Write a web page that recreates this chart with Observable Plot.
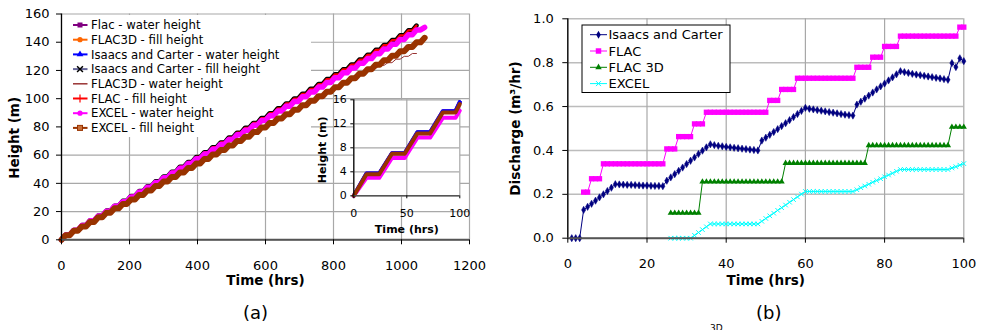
<!DOCTYPE html>
<html><head><meta charset="utf-8">
<script src="https://cdn.jsdelivr.net/npm/d3@7"></script>
<script src="https://cdn.jsdelivr.net/npm/@observablehq/plot@0.6"></script>
<style>
body{margin:0;background:#fff;}
#wrap{position:relative;width:982px;height:330px;overflow:hidden;background:#fff;font-family:"DejaVu Sans",sans-serif;}
#wrap svg{overflow:visible;}
.cap{position:absolute;font-family:"DejaVu Sans",sans-serif;color:#000;}
</style></head><body><div id="wrap"></div>
<script>
// ---------------- (a) main chart data ----------------
const xTicksA = [0,200,400,600,800,1000,1200];
const yTicksA = [0,20,40,60,80,100,120,140,160];
const hrsA = [0,12,24,36,48,60,72,84,96,108,120,132,144,156,168,180,192,204,216,228,240,252,264,276,288,300,312,324,336,348,360,372,384,396,408,420,432,444,456,468,480,492,504,516,528,540,552,564,576,588,600,612,624,636,648,660,672,684,696,708,720,732,744,756,768,780,792,804,816,828,840,852,864,876,888,900,912,924,936,948,960,972,984,996,1008,1020,1032,1044,1056,1068];
// water height (Flac / Isaacs and Carter / FLAC3D fill, FLAC fill overlap)
const waterA = [0,3.5,3.5,6.9,6.9,10.4,10.4,13.8,13.8,17.3,17.3,20.7,20.7,24.2,24.2,27.6,27.6,31.1,31.1,34.5,34.5,38.0,38.0,41.4,41.4,44.9,44.9,48.3,48.3,51.8,51.8,55.2,55.2,58.7,58.7,62.1,62.1,65.6,65.6,69.0,69.0,72.5,72.5,75.9,75.9,79.4,79.4,82.8,82.8,86.3,86.3,89.7,89.7,93.2,93.2,96.6,96.6,100.1,100.1,103.5,103.5,107.0,107.0,110.4,110.4,113.9,113.9,117.3,117.3,120.8,120.8,124.2,124.2,127.7,127.7,131.1,131.1,134.6,134.6,138.0,138.0,141.5,141.5,144.9,144.9,148.4,148.4,151.8];
const excelWaterA = [0,3.4,3.4,6.8,6.8,10.1,10.1,13.5,13.5,16.9,16.9,20.3,20.3,23.7,23.7,27.0,27.0,30.4,30.4,33.8,33.8,37.2,37.2,40.6,40.6,43.9,43.9,47.3,47.3,50.7,50.7,54.1,54.1,57.5,57.5,60.8,60.8,64.2,64.2,67.6,67.6,71.0,71.0,74.4,74.4,77.7,77.7,81.1,81.1,84.5,84.5,87.9,87.9,91.3,91.3,94.6,94.6,98.0,98.0,101.4,101.4,104.8,104.8,108.2,108.2,111.5,111.5,114.9,114.9,118.3,118.3,121.7,121.7,125.1,125.1,128.4,128.4,131.8,131.8,135.2,135.2,138.6,138.6,142.0,142.0,145.3,145.3,148.7,148.7,150.5];
const excelFillA = [0,3.2,3.2,6.4,6.4,9.5,9.5,12.7,12.7,15.9,15.9,19.1,19.1,22.3,22.3,25.4,25.4,28.6,28.6,31.8,31.8,35.0,35.0,38.2,38.2,41.3,41.3,44.5,44.5,47.7,47.7,50.9,50.9,54.1,54.1,57.2,57.2,60.4,60.4,63.6,63.6,66.8,66.8,70.0,70.0,73.1,73.1,76.3,76.3,79.5,79.5,82.7,82.7,85.9,85.9,89.0,89.0,92.2,92.2,95.4,95.4,98.6,98.6,101.8,101.8,104.9,104.9,108.1,108.1,111.3,111.3,114.5,114.5,117.7,117.7,120.8,120.8,124.0,124.0,127.2,127.2,130.4,130.4,133.6,133.6,136.7,136.7,139.9,139.9,143.1];
// FLAC3D water height (thin line) - visible part near the end
const flac3dWaterT = [852,864,876,888,900,912,924,936,948,960,972,984,996,1008,1020,1032,1044];
const flac3dWaterA = [114.5,117.0,117.0,119.0,119.0,121.5,121.5,123.5,123.5,125.5,125.5,128.0,128.0,130.0,130.0,132.0,132.0];

// ---------------- inset data ----------------
const xTicksIn = [0,50,100];
const yTicksIn = [0,4,8,12,16];
const hrsIn = [0,12,24,36,48,60,72,84,96,100];
const waterIn = [0,3.7,3.7,7.1,7.1,10.6,10.6,14.1,14.1,15.6];
const excelWaterIn = [0,3.0,3.0,6.3,6.3,9.7,9.7,13.0,13.0,14.2];
const excelFillIn = [0,3.6,3.6,7.0,7.0,10.4,10.4,13.9,13.9,15.3];

// ---------------- (b) discharge data ----------------
const xTicksB = [0,20,40,60,80,100];
const yTicksB = [0,0.2,0.4,0.6,0.8,1.0];
const hoursB = [1,2,3,4,5,6,7,8,9,10,11,12,13,14,15,16,17,18,19,20,21,22,23,24,25,26,27,28,29,30,31,32,33,34,35,36,37,38,39,40,41,42,43,44,45,46,47,48,49,50,51,52,53,54,55,56,57,58,59,60,61,62,63,64,65,66,67,68,69,70,71,72,73,74,75,76,77,78,79,80,81,82,83,84,85,86,87,88,89,90,91,92,93,94,95,96,97,98,99,100];
// Isaacs and Carter, hours 1..100
const isaacsB = [0,0,0,0.129,0.143,0.157,0.171,0.186,0.200,0.215,0.230,0.246,0.245,0.244,0.243,0.243,0.242,0.241,0.240,0.240,0.239,0.238,0.238,0.237,0.262,0.277,0.292,0.307,0.322,0.338,0.353,0.368,0.384,0.399,0.414,0.428,0.424,0.421,0.419,0.416,0.414,0.412,0.410,0.408,0.406,0.404,0.402,0.400,0.445,0.458,0.471,0.484,0.497,0.511,0.524,0.538,0.552,0.566,0.580,0.594,0.590,0.587,0.584,0.581,0.578,0.575,0.572,0.569,0.566,0.563,0.561,0.559,0.609,0.622,0.636,0.650,0.664,0.678,0.692,0.705,0.719,0.733,0.747,0.761,0.757,0.753,0.749,0.746,0.743,0.740,0.737,0.734,0.731,0.728,0.725,0.722,0.798,0.780,0.820,0.807];
// FLAC, hours 4..100
const flacB = [0.21,0.21,0.271,0.271,0.271,0.339,0.339,0.339,0.339,0.339,0.339,0.339,0.339,0.339,0.339,0.339,0.339,0.339,0.339,0.339,0.339,0.407,0.407,0.407,0.463,0.463,0.463,0.463,0.521,0.521,0.521,0.574,0.574,0.574,0.574,0.574,0.574,0.574,0.574,0.574,0.574,0.574,0.574,0.574,0.574,0.574,0.574,0.628,0.628,0.628,0.678,0.678,0.678,0.678,0.729,0.729,0.729,0.729,0.729,0.729,0.729,0.729,0.729,0.729,0.729,0.729,0.729,0.729,0.729,0.779,0.779,0.779,0.779,0.825,0.825,0.825,0.874,0.874,0.874,0.874,0.921,0.921,0.921,0.921,0.921,0.921,0.921,0.921,0.921,0.921,0.921,0.921,0.921,0.921,0.921,0.962,0.962];
// FLAC 3D, hours 26..100
const flac3dB = [0.115,0.115,0.115,0.115,0.115,0.115,0.115,0.115,0.257,0.257,0.257,0.257,0.257,0.257,0.257,0.257,0.257,0.257,0.257,0.257,0.257,0.257,0.257,0.257,0.257,0.257,0.257,0.257,0.257,0.342,0.342,0.342,0.342,0.342,0.342,0.342,0.342,0.342,0.342,0.342,0.342,0.342,0.342,0.342,0.342,0.342,0.342,0.342,0.342,0.342,0.423,0.423,0.423,0.423,0.423,0.423,0.423,0.423,0.423,0.423,0.423,0.423,0.423,0.423,0.423,0.423,0.423,0.423,0.423,0.423,0.423,0.507,0.507,0.507,0.507];
// EXCEL, hours 26..100
const excelB = [0,0,0,0,0,0,0.013,0.026,0.039,0.052,0.065,0.065,0.065,0.065,0.065,0.065,0.065,0.065,0.065,0.065,0.065,0.065,0.065,0.077,0.090,0.102,0.114,0.127,0.139,0.151,0.164,0.176,0.188,0.201,0.213,0.213,0.213,0.213,0.213,0.213,0.213,0.213,0.213,0.213,0.213,0.213,0.213,0.221,0.230,0.238,0.246,0.255,0.263,0.271,0.280,0.288,0.296,0.305,0.313,0.313,0.313,0.313,0.313,0.313,0.313,0.313,0.313,0.313,0.313,0.313,0.313,0.320,0.326,0.333,0.340];

const legendA = ["Flac - water height","FLAC3D - fill height","Isaacs and Carter - water height","Isaacs and Carter - fill height","FLAC3D - water height","FLAC - fill height","EXCEL - water height","EXCEL - fill height"];
const legendB = ["Isaacs and Carter","FLAC","FLAC 3D","EXCEL"];

// ---------------- helpers ----------------
const rows = (ts, vs) => vs.map((v, i) => ({t: ts[i], v}));
const wrap = document.getElementById("wrap");
function place(node, left, top) {
  node.style.position = "absolute";
  node.style.left = left + "px";
  node.style.top = top + "px";
  wrap.appendChild(node);
}
const GRID = "#a8a8a8";
const FONT = "DejaVu Sans";
const intFmt = d3.format("d");

// ---------------- (a) main ----------------
const chartA = Plot.plot({
  width: 480, height: 300,
  marginLeft: 61, marginRight: 11, marginTop: 13.5, marginBottom: 60.7,
  style: {fontFamily: FONT, fontSize: "13px", background: "transparent", color: "#000", overflow: "visible"},
  x: {domain: [0, 1200]},
  y: {domain: [0, 160]},
  marks: [
    Plot.gridY({ticks: yTicksA, stroke: GRID, strokeOpacity: 1, strokeWidth: 1.2}),
    Plot.gridX({ticks: xTicksA, stroke: GRID, strokeOpacity: 1, strokeWidth: 1.2}),
    Plot.line(rows(hrsA, waterA), {x: "t", y: "v", stroke: "#800080", strokeWidth: 3}),
    Plot.line(rows(hrsA, waterA), {x: "t", y: "v", stroke: "#ff6600", strokeWidth: 3}),
    Plot.line(rows(hrsA, waterA), {x: "t", y: "v", stroke: "#0000ff", strokeWidth: 3}),
    Plot.line(rows(hrsA, waterA), {x: "t", y: "v", stroke: "#000000", strokeWidth: 4.5}),
    Plot.line(rows(flac3dWaterT, flac3dWaterA), {x: "t", y: "v", stroke: "#993333", strokeWidth: 1}),
    Plot.line(rows(hrsA, waterA), {x: "t", y: "v", stroke: "#ff0000", strokeWidth: 2.2}),
    Plot.line(rows(hrsA, excelWaterA), {x: "t", y: "v", stroke: "#ff00ff", strokeWidth: 5.5}),
    Plot.line(rows(hrsA, excelFillA), {x: "t", y: "v", stroke: "#993300", strokeWidth: 6}),
    Plot.ruleX([0], {stroke: "#000", strokeWidth: 1.3}),
    Plot.ruleY([0], {stroke: "#555", strokeWidth: 2}),
    Plot.axisX({ticks: xTicksA, tickSize: 5, tickPadding: 16, label: null, fontSize: 13, tickFormat: intFmt}),
    Plot.axisY({ticks: yTicksA, tickSize: 5, tickPadding: 7, label: null, fontSize: 13, tickFormat: intFmt}),
    Plot.text(["Time (hrs)"], {frameAnchor: "bottom", dy: 45, fontWeight: "bold", fontSize: 13.5, textAnchor: "middle"}),
    Plot.text(["Height (m)"], {frameAnchor: "left", dx: -47, dy: 11, rotate: -90, fontWeight: "bold", fontSize: 13.5, textAnchor: "middle"})
  ]
});
// white legend background, drawn beneath the data lines (as in the reference)
d3.select(chartA).insert("rect", 'g[aria-label="line"]')
  .attr("x", 62).attr("y", 15).attr("width", 249).attr("height", 122).attr("fill", "white");
place(chartA, 0, 0);

// ---------------- inset ----------------
const chartIn = Plot.plot({
  width: 150, height: 150,
  marginLeft: 33.3, marginRight: 10.7, marginTop: 9.3, marginBottom: 44.7,
  style: {fontFamily: FONT, fontSize: "11px", background: "transparent", color: "#000", overflow: "visible"},
  x: {domain: [0, 100]},
  y: {domain: [0, 16]},
  marks: [
    Plot.frame({fill: "white", stroke: null}),
    Plot.gridY({ticks: yTicksIn, stroke: GRID, strokeOpacity: 1, strokeWidth: 1.2}),
    Plot.gridX({ticks: xTicksIn, stroke: GRID, strokeOpacity: 1, strokeWidth: 1.2}),
    Plot.line(rows(hrsIn, waterIn), {x: "t", y: "v", stroke: "#800080", strokeWidth: 4}),
    Plot.line(rows(hrsIn, waterIn), {x: "t", y: "v", stroke: "#0000ff", strokeWidth: 4}),
    Plot.line(rows(hrsIn, excelWaterIn), {x: "t", y: "v", stroke: "#ff00ff", strokeWidth: 4}),
    Plot.line(rows(hrsIn, excelFillIn), {x: "t", y: "v", stroke: "#993300", strokeWidth: 4}),
    Plot.ruleX([0], {stroke: "#000", strokeWidth: 1.2}),
    Plot.ruleY([0], {stroke: "#555", strokeWidth: 1.6}),
    Plot.axisX({ticks: xTicksIn, tickSize: 3, tickPadding: 10, label: null, fontSize: 11, tickFormat: intFmt}),
    Plot.axisY({ticks: yTicksIn, tickSize: 3, tickPadding: 4, label: null, fontSize: 11, tickFormat: intFmt}),
    Plot.text(["Time (hrs)"], {frameAnchor: "bottom", dy: 37.4, fontWeight: "bold", fontSize: 11, textAnchor: "middle"}),
    Plot.text(["Height (m)"], {frameAnchor: "left", dx: -31.6, dy: 2, rotate: -90, fontWeight: "bold", fontSize: 11, textAnchor: "middle"})
  ]
});
place(chartIn, 320, 90);

// ---------------- (b) discharge ----------------
const chartB = Plot.plot({
  width: 492, height: 300,
  marginLeft: 77.3, marginRight: 18.7, marginTop: 18.3, marginBottom: 62.3,
  style: {fontFamily: FONT, fontSize: "13px", background: "transparent", color: "#000", overflow: "visible"},
  x: {domain: [0, 100]},
  y: {domain: [0, 1]},
  marks: [
    Plot.gridY({ticks: yTicksB, stroke: "#bcbcbc", strokeOpacity: 1, strokeWidth: 1.6}),
    Plot.gridX({ticks: xTicksB, stroke: GRID, strokeOpacity: 1, strokeWidth: 1.2}),
    Plot.line(rows(hoursB, isaacsB), {x: "t", y: "v", stroke: "#000080", strokeWidth: 1}),
    Plot.dot(rows(hoursB, isaacsB), {x: "t", y: "v", symbol: "diamond", r: 2.2, fill: "#000080", stroke: "#000080", strokeWidth: 0.5}),
    Plot.line(rows(hoursB.slice(3), flacB), {x: "t", y: "v", stroke: "#ff00ff", strokeWidth: 1}),
    Plot.dot(rows(hoursB.slice(3), flacB), {x: "t", y: "v", symbol: "square", r: 3, fill: "#ff00ff", stroke: "none"}),
    Plot.line(rows(hoursB.slice(25), flac3dB), {x: "t", y: "v", stroke: "#008000", strokeWidth: 1}),
    Plot.dot(rows(hoursB.slice(25), flac3dB), {x: "t", y: "v", symbol: "triangle", r: 2.3, fill: "#008000", stroke: "none"}),
    Plot.line(rows(hoursB.slice(25), excelB), {x: "t", y: "v", stroke: "#00ffff", strokeWidth: 1}),
    Plot.dot(rows(hoursB.slice(25), excelB), {x: "t", y: "v", symbol: "times", r: 2.2, stroke: "#00ffff", strokeWidth: 1}),
    Plot.ruleX([0], {stroke: "#000", strokeWidth: 1.3}),
    Plot.ruleY([0], {stroke: "#555", strokeWidth: 2}),
    Plot.axisX({ticks: xTicksB, tickSize: 5, tickPadding: 16, label: null, fontSize: 13, tickFormat: intFmt}),
    Plot.axisY({ticks: yTicksB, tickSize: 5, tickPadding: 9, label: null, fontSize: 13, tickFormat: d3.format(".1f")}),
    Plot.text(["Time (hrs)"], {frameAnchor: "bottom", dy: 46.3, fontWeight: "bold", fontSize: 13.5, textAnchor: "middle"}),
    Plot.text(["Discharge (m³/hr)"], {frameAnchor: "left", dx: -52, rotate: -90, fontWeight: "bold", fontSize: 13.5, textAnchor: "middle"})
  ]
});
place(chartB, 490, 0);

// ---------------- legends ----------------
const svg = d3.create("svg").attr("width", 982).attr("height", 330)
  .style("position", "absolute").style("left", "0px").style("top", "0px")
  .style("font-family", FONT);
// legend (a)
const colA = ["#800080","#ff6600","#0000ff","#666699","#993333","#ff0000","#ff00ff","#993300"];
const symA = ["square","circle","triangle","asterisk",null,"plus","circle","squareOpen"];
const gA = svg.append("g");
legendA.forEach((name, i) => {
  const y = 25 + i * 14.7;
  gA.append("line").attr("x1", 73).attr("x2", 87.5).attr("y1", y).attr("y2", y)
    .attr("stroke", colA[i]).attr("stroke-width", i === 4 ? 1.5 : 2);
  const s = symA[i];
  if (s === "square") gA.append("rect").attr("x", 77.5).attr("y", y - 2.5).attr("width", 5).attr("height", 5).attr("fill", colA[i]);
  if (s === "squareOpen") gA.append("rect").attr("x", 77.5).attr("y", y - 2.5).attr("width", 5).attr("height", 5).attr("fill", "#c8703a").attr("stroke", colA[i]);
  if (s === "circle") gA.append("circle").attr("cx", 80).attr("cy", y).attr("r", 2.6).attr("fill", colA[i]);
  if (s === "triangle") gA.append("path").attr("transform", `translate(80,${y})`).attr("d", d3.symbol(d3.symbolTriangle, 20)()).attr("fill", colA[i]);
  if (s === "asterisk") gA.append("path").attr("transform", `translate(80,${y})`).attr("d", d3.symbol(d3.symbolTimes, 24)()).attr("stroke", "#000").attr("stroke-width", 1.5).attr("fill", "none");
  if (s === "plus") gA.append("path").attr("transform", `translate(80,${y})`).attr("d", d3.symbol(d3.symbolPlus, 24)()).attr("stroke", colA[i]).attr("stroke-width", 1.2).attr("fill", "none");
  gA.append("text").attr("x", 91).attr("y", y).attr("dy", "0.36em").attr("font-size", 11.7).text(name);
});
// legend (b)
const gB = svg.append("g");
gB.append("rect").attr("x", 582).attr("y", 25).attr("width", 148).attr("height", 67.5)
  .attr("fill", "white").attr("stroke", "#000").attr("stroke-width", 1);
const colB = ["#000080","#ff00ff","#008000","#00ffff"];
const symB = [d3.symbolDiamond, d3.symbolSquare, d3.symbolTriangle, d3.symbolTimes];
legendB.forEach((name, i) => {
  const y = 34.7 + i * 16.3;
  gB.append("line").attr("x1", 590).attr("x2", 607).attr("y1", y).attr("y2", y).attr("stroke", colB[i]).attr("stroke-width", 1);
  const p = gB.append("path").attr("transform", `translate(598.5,${y})`).attr("d", d3.symbol(symB[i], i === 1 ? 30 : 18)());
  if (i === 3) p.attr("fill", "none").attr("stroke", colB[i]).attr("stroke-width", 1);
  else p.attr("fill", colB[i]);
  gB.append("text").attr("x", 608.5).attr("y", y).attr("dy", "0.36em").attr("font-size", 13).text(name);
});
wrap.appendChild(svg.node());

// captions
function cap(text, x, y, size) {
  const d = document.createElement("div");
  d.className = "cap";
  d.textContent = text;
  d.style.left = x + "px"; d.style.top = y + "px"; d.style.fontSize = size + "px";
  d.style.lineHeight = "1";
  wrap.appendChild(d);
}
cap("(a)", 243, 304, 18);
cap("(b)", 756, 304, 18);
cap("3D", 710, 324, 9);
</script></body></html>
